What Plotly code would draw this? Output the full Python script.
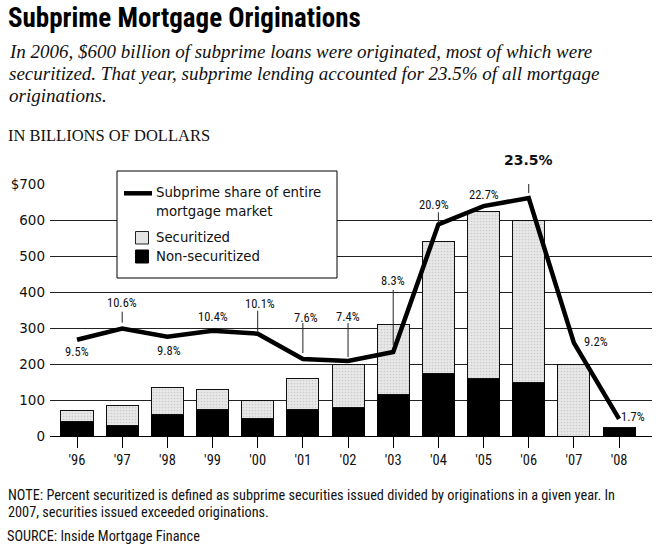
import plotly.graph_objects as go

# ---------------- data ----------------
years = ["'96", "'97", "'98", "'99", "'00", "'01", "'02", "'03", "'04", "'05", "'06", "'07", "'08"]
non_securitized = [40, 30, 60, 75, 50, 75, 78, 115, 175, 160, 150, 0, 23]
securitized = [30, 55, 76, 55, 50, 85, 122, 195, 365, 465, 450, 200, 0]
share_pct = [9.5, 10.6, 9.8, 10.4, 10.1, 7.6, 7.4, 8.3, 20.9, 22.7, 23.5, 9.2, 1.7]
y_tickvals = [0, 100, 200, 300, 400, 500, 600, 700]
y_ticktext = ["0", "100", "200", "300", "400", "500", "600", "$700"]

# ---------------- layout geometry ----------------
W, H = 656, 551
ML, MR, MT, MB = 50, 4, 184, 115
PW, PH = W - ML - MR, H - MT - MB


def px(x):
    return (x - ML) / PW


def py(y):
    return (H - MB - y) / PH


xs = list(range(len(years)))
narrow = "Roboto Condensed"
sans = "DejaVu Sans"
serif = "Liberation Serif"

fig = go.Figure()
fig.add_trace(go.Bar(
    x=xs, y=non_securitized, name="Non-securitized", width=0.71,
    marker=dict(color="black", line=dict(color="black", width=1)),
    showlegend=False, hoverinfo="skip"))
fig.add_trace(go.Bar(
    x=xs, y=securitized, name="Securitized", width=0.71,
    marker=dict(color="#e4e4e4", line=dict(color="#111", width=1),
                pattern=dict(shape=".", fgcolor="#b0b0b0", bgcolor="#e8e8e8", size=3, solidity=0.25)),
    showlegend=False, hoverinfo="skip"))
fig.add_trace(go.Scatter(
    x=xs, y=share_pct, yaxis="y2", mode="lines", name="Subprime share of entire mortgage market",
    line=dict(color="black", width=4.5), showlegend=False, hoverinfo="skip"))

# percent labels (offsets in pixels relative to each point)
lab_dx = [0, 0, 2, 0, 2, 3, 0, 0, -4, 0, 0, 22, 14]
lab_dy = [-12, 26, -14, 14, 30, 42, 45, 71, 20, 12, 38, 1, 2]
annotations = []
peak = max(share_pct)
for i, v in enumerate(share_pct):
    big = (v == peak)
    annotations.append(dict(
        x=i, y=v, xref="x", yref="y2", text=f"{v}%", showarrow=False,
        xshift=lab_dx[i], yshift=lab_dy[i],
        font=dict(family=sans if big else narrow, size=14 if big else 12.5,
                  color="#111", weight="bold" if big else "normal")))

# leader lines (pixel offsets above point)
leaders = {1: (6, 17), 4: (2, 23), 5: (6, 36), 6: (4, 38), 7: (7, 62), 8: (1, 12), 10: (5, 25)}
shapes = []
for i, (a, b) in leaders.items():
    shapes.append(dict(type="line", xref="x", yref="y2", ysizemode="pixel", yanchor=share_pct[i],
                       x0=i, x1=i, y0=a, y1=b, line=dict(color="#222", width=1), layer="above"))

# custom legend box
shapes.append(dict(type="rect", xref="paper", yref="paper", x0=px(117), x1=px(337), y0=py(278), y1=py(171),
                   fillcolor="white", line=dict(color="black", width=1), layer="above"))
shapes.append(dict(type="line", xref="paper", yref="paper", x0=px(124), x1=px(152), y0=py(193.3), y1=py(193.3),
                   line=dict(color="black", width=4.5), layer="above"))
shapes.append(dict(type="rect", xref="paper", yref="paper", x0=px(135.5), x1=px(148.5), y0=py(244), y1=py(231.5),
                   fillcolor="#e4e4e4", line=dict(color="#222", width=1), layer="above"))
shapes.append(dict(type="rect", xref="paper", yref="paper", x0=px(135.5), x1=px(148.5), y0=py(263), y1=py(250),
                   fillcolor="black", line=dict(color="black", width=1), layer="above"))
for txt, yy in [("Subprime share of entire", 192.5), ("mortgage market", 211.5),
                ("Securitized", 237.5), ("Non-securitized", 256.5)]:
    annotations.append(dict(x=px(154), y=py(yy), xref="paper", yref="paper", text=txt, showarrow=False,
                            xanchor="left", yanchor="middle", font=dict(family=sans, size=13.3, color="#111")))

# titles and notes
texts = [
    dict(x=px(6), y=py(18), text="<b>Subprime Mortgage Originations</b>",
         font=dict(family=narrow, size=27, color="black")),
    dict(x=px(7), y=py(51), text="<i>In 2006, $600 billion of subprime loans were originated, most of which were</i>",
         font=dict(family=serif, size=19, color="#111")),
    dict(x=px(7), y=py(73.5), text="<i>securitized. That year, subprime lending accounted for 23.5% of all mortgage</i>",
         font=dict(family=serif, size=19, color="#111")),
    dict(x=px(7), y=py(95.5), text="<i>originations.</i>",
         font=dict(family=serif, size=19, color="#111")),
    dict(x=px(6), y=py(135), text="IN BILLIONS OF DOLLARS",
         font=dict(family=serif, size=16.5, color="#111")),
    dict(x=px(6), y=py(495),
         text="NOTE: Percent securitized is defined as subprime securities issued divided by originations in a given year. In",
         font=dict(family=narrow, size=14.3, color="#111")),
    dict(x=px(6), y=py(512), text="2007, securities issued exceeded originations.",
         font=dict(family=narrow, size=14.3, color="#111")),
    dict(x=px(5), y=py(536), text="SOURCE: Inside Mortgage Finance",
         font=dict(family=narrow, size=14.3, color="#111")),
]
for a in texts:
    a.update(xref="paper", yref="paper", xanchor="left", yanchor="middle", showarrow=False)
annotations += texts

fig.update_layout(
    width=W, height=H, margin=dict(l=ML, r=MR, t=MT, b=MB, autoexpand=False),
    paper_bgcolor="white", plot_bgcolor="white", barmode="stack",
    xaxis=dict(range=[-0.598, 12.729], tickvals=xs, ticktext=years, ticks="outside", ticklen=11,
               tickcolor="black", tickwidth=1, showgrid=False, zeroline=False, showline=False,
               tickfont=dict(family=narrow, size=14.5, color="#111")),
    yaxis=dict(range=[0, 700.5], tickvals=y_tickvals, ticktext=y_ticktext, showgrid=True,
               gridcolor="#222", gridwidth=1, zeroline=True, zerolinecolor="black", zerolinewidth=1.2,
               ticks="", ticklabelstandoff=4, tickfont=dict(family=sans, size=13.5, color="#111")),
    yaxis2=dict(range=[0, 24.885], overlaying="y", visible=False),
    annotations=annotations, shapes=shapes, showlegend=False,
)
fig.write_html("out.html", config={"displayModeBar": False},
               post_script="document.body.style.margin='0';document.body.style.overflow='hidden';")
